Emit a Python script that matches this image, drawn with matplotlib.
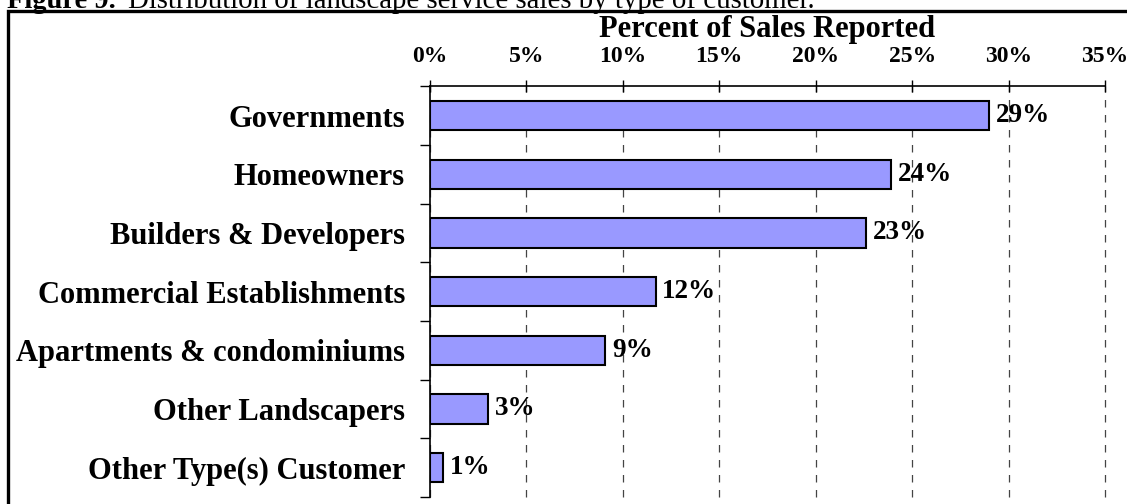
import matplotlib.pyplot as plt
from matplotlib.ticker import MultipleLocator, FuncFormatter

# %% data
customers = ["Governments", "Homeowners", "Builders & Developers",
             "Commercial Establishments", "Apartments & condominiums",
             "Other Landscapers", "Other Type(s) Customer"]
share = [29.0, 23.9, 22.6, 11.7, 9.1, 3.0, 0.7]
share_labels = ["29%", "24%", "23%", "12%", "9%", "3%", "1%"]

plt.rcParams['font.family'] = ['Liberation Serif', 'DejaVu Serif']

# %% plot
fig = plt.figure(figsize=(11.27, 5.04), dpi=100)
ax = fig.add_axes([0.3815, 0.014, 0.599, 0.815])

pos = list(range(len(customers)))
ax.barh(pos, share, height=0.5, color="#9999FF", edgecolor="black", linewidth=1.5, zorder=3)
for p, v, lab in zip(pos, share, share_labels):
    ax.text(v + 0.35, p, lab, va="center", ha="left", fontsize=19.5, fontweight="bold", zorder=4)

ax.set_xlim(0, 35)
ax.set_ylim(len(customers) - 0.5, -0.5)
ax.xaxis.set_major_locator(MultipleLocator(5))
ax.xaxis.set_major_formatter(FuncFormatter(lambda x, _: f"{x:.0f}%"))
ax.xaxis.tick_top()
ax.xaxis.set_label_position("top")
ax.set_xlabel("Percent of Sales Reported", fontsize=22, fontweight="bold", labelpad=7)
ax.tick_params(axis="x", direction="inout", length=9, width=1, labelsize=17, pad=9)
for t in ax.get_xticklabels():
    t.set_fontweight("bold")

ax.set_yticks(pos)
ax.set_yticklabels(customers, fontsize=22, fontweight="bold")
ax.set_yticks([p - 0.5 for p in pos] + [len(customers) - 0.5], minor=True)
ax.tick_params(axis="y", which="major", length=0, pad=18)
ax.tick_params(axis="y", which="minor", direction="out", length=7, width=1)

ax.grid(axis="x", linestyle=(0, (6, 6)), color="#444444", linewidth=0.9, zorder=0)
for gl in ax.get_xgridlines():
    gl.set_clip_on(False)
ax.spines["right"].set_visible(False)
ax.spines["bottom"].set_visible(False)
ax.spines["top"].set_linewidth(1.2)
ax.spines["left"].set_linewidth(1.2)

# outer frame and caption
fig.add_artist(plt.Rectangle((8 / 1127, -0.1), 1.2, 1 - 11 / 504 + 0.1, transform=fig.transFigure,
                             fill=False, edgecolor="black", linewidth=2.4))
fig.text(7 / 1127, 1 - 8 / 504, "Figure 9.", fontsize=20.5, fontweight="bold", va="baseline")
fig.text(128 / 1127, 1 - 8 / 504, "Distribution of landscape service sales by type of customer.",
         fontsize=20.8, va="baseline")

fig.savefig("out.png", dpi=100)
